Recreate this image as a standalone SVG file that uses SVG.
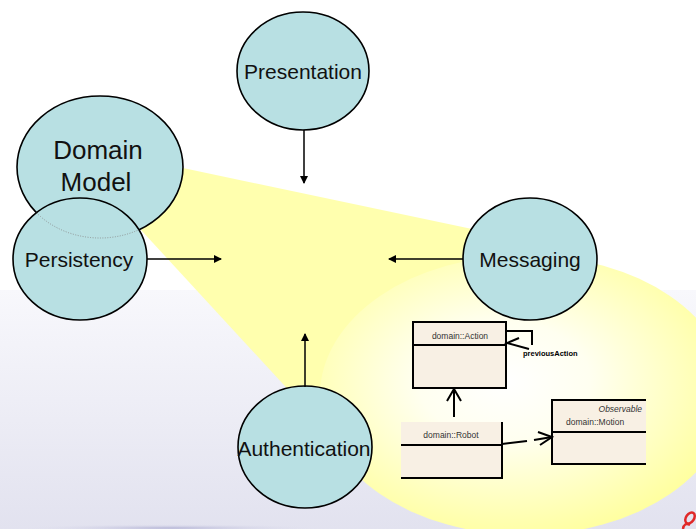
<svg xmlns="http://www.w3.org/2000/svg" width="696" height="529" viewBox="0 0 696 529">
<defs>
<linearGradient id="bg" x1="0" y1="0" x2="0" y2="1">
<stop offset="0" stop-color="#f8f8fc"/>
<stop offset="1" stop-color="#e2e2ef"/>
</linearGradient>
<radialGradient id="spot" cx="0.45" cy="0.45" r="0.6">
<stop offset="0" stop-color="#ffffff"/>
<stop offset="0.35" stop-color="#fffff0"/>
<stop offset="1" stop-color="#ffff99"/>
</radialGradient>
<radialGradient id="shadow" cx="0.5" cy="0.5" r="0.5">
<stop offset="0" stop-color="#b8b8d8"/>
<stop offset="1" stop-color="#e2e2ef" stop-opacity="0"/>
</radialGradient>
<clipPath id="persClip"><ellipse cx="80" cy="259" rx="67" ry="61"/></clipPath>
<marker id="ah" markerWidth="8" markerHeight="8" refX="7" refY="4" orient="auto" markerUnits="userSpaceOnUse">
<path d="M0,0 L8,4 L0,8 z" fill="#000"/>
</marker>
<style>
.node{fill:#b8e0e3;stroke:#000;stroke-width:1.6}
.lbl{font-family:"Liberation Sans",Arial,sans-serif;fill:#111;text-anchor:middle}
.conn{stroke:#000;stroke-width:1.5;fill:none}
.box{fill:#f8f0e4}
.bl{stroke:#000;stroke-width:2;fill:none}
.ut{font-family:"Liberation Sans",Arial,sans-serif;font-size:8.5px;fill:#333}
</style>
</defs>
<rect x="0" y="0" width="696" height="290" fill="#ffffff"/>
<rect x="0" y="290" width="696" height="239" fill="url(#bg)"/>
<ellipse cx="170" cy="528" rx="150" ry="4" fill="url(#shadow)"/>
<g id="beam">
<polygon points="183,168 590,254 525,395 318,422 141,230" fill="#ffffaa" opacity="0.95"/>
<ellipse cx="525" cy="395" rx="205" ry="140" fill="url(#spot)"/>
</g>
<g id="logo" fill="none" stroke="#e02828" stroke-width="2.5">
<ellipse cx="690" cy="518" rx="6" ry="4" transform="rotate(-55 690 518)"/>
<path d="M683,529 Q684,522 690,525"/>
</g>
<g id="presentation">
<ellipse class="node" cx="303" cy="71" rx="66" ry="59"/>
<text class="lbl" x="303" y="79" font-size="21">Presentation</text>
</g>
<g id="domain-model">
<ellipse class="node" cx="100" cy="167" rx="83" ry="71"/>
<text class="lbl" x="98" y="159" font-size="26">Domain</text>
<text class="lbl" x="96" y="191" font-size="26">Model</text>
</g>
<g id="persistency">
<ellipse class="node" cx="80" cy="259" rx="67" ry="61"/>
<ellipse cx="100" cy="167" rx="83" ry="71" fill="none" stroke="#888" stroke-width="0.8" stroke-dasharray="1,1.5" clip-path="url(#persClip)"/>
<text class="lbl" x="79" y="267" font-size="21">Persistency</text>
</g>
<g id="messaging">
<ellipse class="node" cx="530" cy="259" rx="67" ry="61"/>
<text class="lbl" x="530" y="267" font-size="21">Messaging</text>
</g>
<g id="authentication">
<ellipse class="node" cx="305" cy="447" rx="67" ry="61"/>
<text class="lbl" x="304" y="456" font-size="21">Authentication</text>
</g>
<g id="connectors">
<line class="conn" x1="304" y1="130" x2="304" y2="183" marker-end="url(#ah)"/>
<line class="conn" x1="147" y1="259" x2="221" y2="259" marker-end="url(#ah)"/>
<line class="conn" x1="463" y1="259" x2="389" y2="259" marker-end="url(#ah)"/>
<line class="conn" x1="305" y1="387" x2="305" y2="334" marker-end="url(#ah)"/>
</g>
<g id="uml-action">
<rect class="box" x="413" y="322" width="93" height="66"/>
<rect class="bl" x="413" y="322" width="93" height="66"/>
<line class="bl" x1="413" y1="345" x2="506" y2="345"/>
<text class="ut" x="460" y="339" text-anchor="middle">domain::Action</text>
</g>
<g id="uml-robot">
<rect class="box" x="401" y="422" width="101" height="56"/>
<path class="bl" d="M502,422 L502,478 L401,478"/>
<line class="bl" x1="401" y1="445" x2="502" y2="445"/>
<text class="ut" x="451" y="438" text-anchor="middle">domain::Robot</text>
</g>
<g id="uml-motion">
<rect class="box" x="552" y="400" width="94" height="64"/>
<path class="bl" d="M646,400 L552,400 L552,464 L646,464"/>
<line class="bl" x1="552" y1="432" x2="646" y2="432"/>
<text class="ut" x="642" y="412" text-anchor="end" font-style="italic">Observable</text>
<text class="ut" x="566" y="425">domain::Motion</text>
</g>
<g id="uml-connectors" class="bl">
<path d="M506,331 L532,331 L532,345"/>
<path d="M519,338 L507,343 L529,349"/>
<path d="M454,417 L454,390"/>
<path d="M447,401 L454,389 L461,401"/>
<path d="M502,444 L527,441"/>
<path d="M534,440 L552,437"/>
<path d="M538,432 L552,437 L540,445"/>
</g>
<text x="523" y="356" font-family="Liberation Sans,Arial,sans-serif" font-size="7.5" font-weight="bold" fill="#000">previousAction</text>
</svg>
